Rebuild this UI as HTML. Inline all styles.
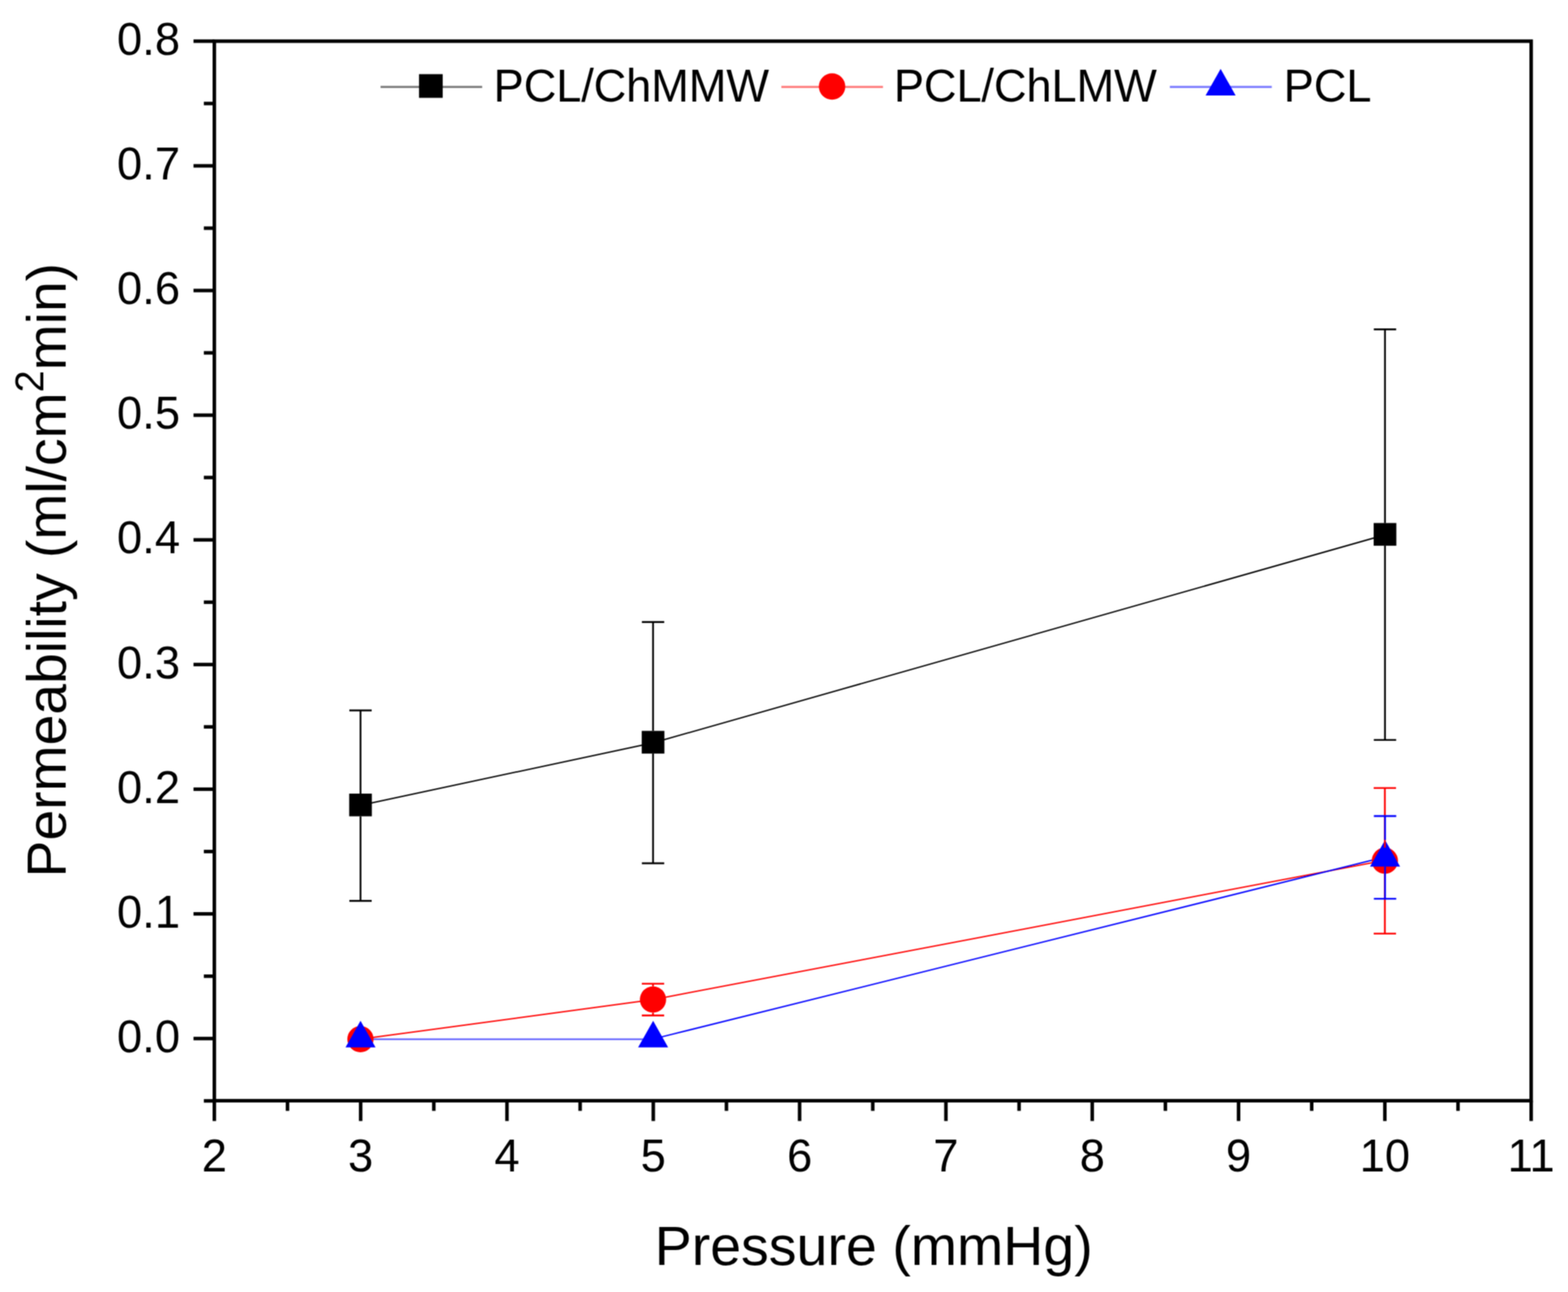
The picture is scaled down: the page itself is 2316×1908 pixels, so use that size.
<!DOCTYPE html>
<html><head><meta charset="utf-8"><title>Permeability vs Pressure</title>
<style>html,body{margin:0;padding:0;background:#fff;}svg{display:block;}text{font-family:"Liberation Sans", Arial, sans-serif;fill:#000;}</style>
</head><body>
<svg width="2316" height="1908" viewBox="0 0 2316 1908">
<defs><filter id="soft" filterUnits="userSpaceOnUse" x="0" y="0" width="2316" height="1908" color-interpolation-filters="sRGB"><feConvolveMatrix order="3" kernelMatrix="1 2 1 2 4 2 1 2 1" divisor="16" edgeMode="duplicate" preserveAlpha="true"/></filter></defs>
<g filter="url(#soft)">
<rect x="0" y="0" width="2316" height="1908" fill="#fff"/>
<g id="plot">
<path d="M532.50 1189.20L964.60 1097.00" stroke="#000000" stroke-width="2.00" fill="none" stroke-linecap="round"/>
<path d="M964.60 1097.00L2045.70 789.80" stroke="#000000" stroke-width="2.00" fill="none" stroke-linecap="round"/>
<path d="M532.40 1534.60L964.50 1476.20" stroke="#ff0000" stroke-width="2.00" fill="none" stroke-linecap="round"/>
<path d="M964.50 1476.20L2045.50 1270.50" stroke="#ff0000" stroke-width="2.00" fill="none" stroke-linecap="round"/>
<path d="M532.50 1534.70H964.70" stroke="#0000ff" stroke-width="2.6" stroke-opacity="0.6" fill="none"/>
<path d="M964.70 1534.40L2045.80 1265.50" stroke="#0000ff" stroke-width="2.00" fill="none" stroke-linecap="round"/>
<g><rect x="515.75" y="1172.00" width="33.50" height="33.50" fill="#000000"/><rect x="947.85" y="1079.35" width="33.50" height="33.50" fill="#000000"/><rect x="2028.95" y="772.40" width="33.50" height="33.50" fill="#000000"/></g>
<g><circle cx="532.40" cy="1534.60" r="19.40" fill="#ff0000"/><circle cx="964.50" cy="1476.05" r="19.40" fill="#ff0000"/><circle cx="2045.50" cy="1271.10" r="19.40" fill="#ff0000"/></g>
<g><polygon points="532.50,1507.60 510.30,1546.80 554.70,1546.80" fill="#0000ff"/><polygon points="964.70,1507.60 942.50,1546.80 986.90,1546.80" fill="#0000ff"/><polygon points="2045.80,1240.60 2023.60,1279.80 2068.00,1279.80" fill="#0000ff"/></g>
<g><path d="M532.50 1049.10V1172.00M532.50 1205.50V1330.40M516.00 1049.10H549.00M516.00 1330.40H549.00" stroke="#000000" stroke-width="2.60" fill="none"/><path d="M964.60 918.60V1079.35M964.60 1112.85V1274.90M948.10 918.60H981.10M948.10 1274.90H981.10" stroke="#000000" stroke-width="2.60" fill="none"/><path d="M2045.70 486.40V772.40M2045.70 805.90V1092.80M2029.20 486.40H2062.20M2029.20 1092.80H2062.20" stroke="#000000" stroke-width="2.60" fill="none"/></g>
<g><path d="M964.50 1452.80V1456.65M964.50 1495.45V1499.60M948.00 1452.80H981.00M948.00 1499.60H981.00" stroke="#ff0000" stroke-width="2.60" fill="none"/><path d="M2045.50 1163.80V1251.70M2045.50 1290.50V1378.70M2029.00 1163.80H2062.00M2029.00 1378.70H2062.00" stroke="#ff0000" stroke-width="2.60" fill="none"/></g>
<g><path d="M2045.80 1205.10V1240.60M2045.80 1279.80V1327.30M2029.30 1205.10H2062.30M2029.30 1327.30H2062.30" stroke="#0000ff" stroke-width="2.60" fill="none"/></g>
</g>
<g id="axes"><rect x="316.60" y="60.80" width="1945.00" height="1564.70" fill="none" stroke="#000" stroke-width="5.20"/><path d="M285.80 1533.70H316.60" stroke="#000" stroke-width="5.20"/><path d="M285.80 1349.59H316.60" stroke="#000" stroke-width="5.20"/><path d="M285.80 1165.47H316.60" stroke="#000" stroke-width="5.20"/><path d="M285.80 981.36H316.60" stroke="#000" stroke-width="5.20"/><path d="M285.80 797.25H316.60" stroke="#000" stroke-width="5.20"/><path d="M285.80 613.14H316.60" stroke="#000" stroke-width="5.20"/><path d="M285.80 429.03H316.60" stroke="#000" stroke-width="5.20"/><path d="M285.80 244.91H316.60" stroke="#000" stroke-width="5.20"/><path d="M285.80 60.80H316.60" stroke="#000" stroke-width="5.20"/><path d="M301.10 1625.76H316.60" stroke="#000" stroke-width="5.20"/><path d="M301.10 1441.64H316.60" stroke="#000" stroke-width="5.20"/><path d="M301.10 1257.53H316.60" stroke="#000" stroke-width="5.20"/><path d="M301.10 1073.42H316.60" stroke="#000" stroke-width="5.20"/><path d="M301.10 889.31H316.60" stroke="#000" stroke-width="5.20"/><path d="M301.10 705.19H316.60" stroke="#000" stroke-width="5.20"/><path d="M301.10 521.08H316.60" stroke="#000" stroke-width="5.20"/><path d="M301.10 336.97H316.60" stroke="#000" stroke-width="5.20"/><path d="M301.10 152.86H316.60" stroke="#000" stroke-width="5.20"/><path d="M316.60 1625.50V1655.50" stroke="#000" stroke-width="5.20"/><path d="M532.71 1625.50V1655.50" stroke="#000" stroke-width="5.20"/><path d="M748.82 1625.50V1655.50" stroke="#000" stroke-width="5.20"/><path d="M964.93 1625.50V1655.50" stroke="#000" stroke-width="5.20"/><path d="M1181.04 1625.50V1655.50" stroke="#000" stroke-width="5.20"/><path d="M1397.16 1625.50V1655.50" stroke="#000" stroke-width="5.20"/><path d="M1613.27 1625.50V1655.50" stroke="#000" stroke-width="5.20"/><path d="M1829.38 1625.50V1655.50" stroke="#000" stroke-width="5.20"/><path d="M2045.49 1625.50V1655.50" stroke="#000" stroke-width="5.20"/><path d="M2261.60 1625.50V1655.50" stroke="#000" stroke-width="5.20"/><path d="M424.66 1625.50V1640.50" stroke="#000" stroke-width="5.20"/><path d="M640.77 1625.50V1640.50" stroke="#000" stroke-width="5.20"/><path d="M856.88 1625.50V1640.50" stroke="#000" stroke-width="5.20"/><path d="M1072.99 1625.50V1640.50" stroke="#000" stroke-width="5.20"/><path d="M1289.10 1625.50V1640.50" stroke="#000" stroke-width="5.20"/><path d="M1505.21 1625.50V1640.50" stroke="#000" stroke-width="5.20"/><path d="M1721.32 1625.50V1640.50" stroke="#000" stroke-width="5.20"/><path d="M1937.43 1625.50V1640.50" stroke="#000" stroke-width="5.20"/><path d="M2153.54 1625.50V1640.50" stroke="#000" stroke-width="5.20"/></g>
<g id="ticklabels"><text transform="translate(266.00 1553.90) scale(1 1.032)" text-anchor="end" font-size="67">0.0</text><text transform="translate(266.00 1369.79) scale(1 1.032)" text-anchor="end" font-size="67">0.1</text><text transform="translate(266.00 1185.67) scale(1 1.032)" text-anchor="end" font-size="67">0.2</text><text transform="translate(266.00 1001.56) scale(1 1.032)" text-anchor="end" font-size="67">0.3</text><text transform="translate(266.00 817.45) scale(1 1.032)" text-anchor="end" font-size="67">0.4</text><text transform="translate(266.00 633.34) scale(1 1.032)" text-anchor="end" font-size="67">0.5</text><text transform="translate(266.00 449.23) scale(1 1.032)" text-anchor="end" font-size="67">0.6</text><text transform="translate(266.00 265.11) scale(1 1.032)" text-anchor="end" font-size="67">0.7</text><text transform="translate(266.00 81.00) scale(1 1.032)" text-anchor="end" font-size="67">0.8</text><text transform="translate(316.60 1730.30) scale(1 1.032)" text-anchor="middle" font-size="67">2</text><text transform="translate(532.71 1730.30) scale(1 1.032)" text-anchor="middle" font-size="67">3</text><text transform="translate(748.82 1730.30) scale(1 1.032)" text-anchor="middle" font-size="67">4</text><text transform="translate(964.93 1730.30) scale(1 1.032)" text-anchor="middle" font-size="67">5</text><text transform="translate(1181.04 1730.30) scale(1 1.032)" text-anchor="middle" font-size="67">6</text><text transform="translate(1397.16 1730.30) scale(1 1.032)" text-anchor="middle" font-size="67">7</text><text transform="translate(1613.27 1730.30) scale(1 1.032)" text-anchor="middle" font-size="67">8</text><text transform="translate(1829.38 1730.30) scale(1 1.032)" text-anchor="middle" font-size="67">9</text><text transform="translate(2045.49 1730.30) scale(1 1.032)" text-anchor="middle" font-size="67">10</text><text transform="translate(2261.60 1730.30) scale(1 1.032)" text-anchor="middle" font-size="67">11</text></g>
<text x="1290.50" y="1868.40" text-anchor="middle" font-size="82">Pressure (mmHg)</text>
<text transform="translate(96.60 842.00) rotate(-90)" text-anchor="middle" font-size="81.6">Permeability (ml/cm<tspan font-size="58.5" dy="-33.1">2</tspan><tspan dy="33.1">min)</tspan></text>
<g id="legend"><path d="M562.10 128.40H712.20" stroke="#000" stroke-width="3.40" stroke-opacity="0.50"/><rect x="618.90" y="109.50" width="35.00" height="35.00" fill="#000"/><text transform="translate(729.0 150.20) scale(1 1.035)" font-size="67" letter-spacing="-0.3">PCL/ChMMW</text><path d="M1154.10 128.40H1304.20" stroke="#ff0000" stroke-width="3.40" stroke-opacity="0.50"/><circle cx="1229.00" cy="127.80" r="19.50" fill="#ff0000"/><text transform="translate(1320.2 150.20) scale(1 1.035)" font-size="67" letter-spacing="-0.3">PCL/ChLMW</text><path d="M1727.90 128.40H1878.50" stroke="#0000ff" stroke-width="3.40" stroke-opacity="0.50"/><polygon points="1802.9,101.8 1780.7,141.1 1825.1,141.1" fill="#0000ff"/><text transform="translate(1896.0 150.20) scale(1 1.035)" font-size="67" letter-spacing="-0.3">PCL</text></g>
</g>
</svg>
</body></html>
